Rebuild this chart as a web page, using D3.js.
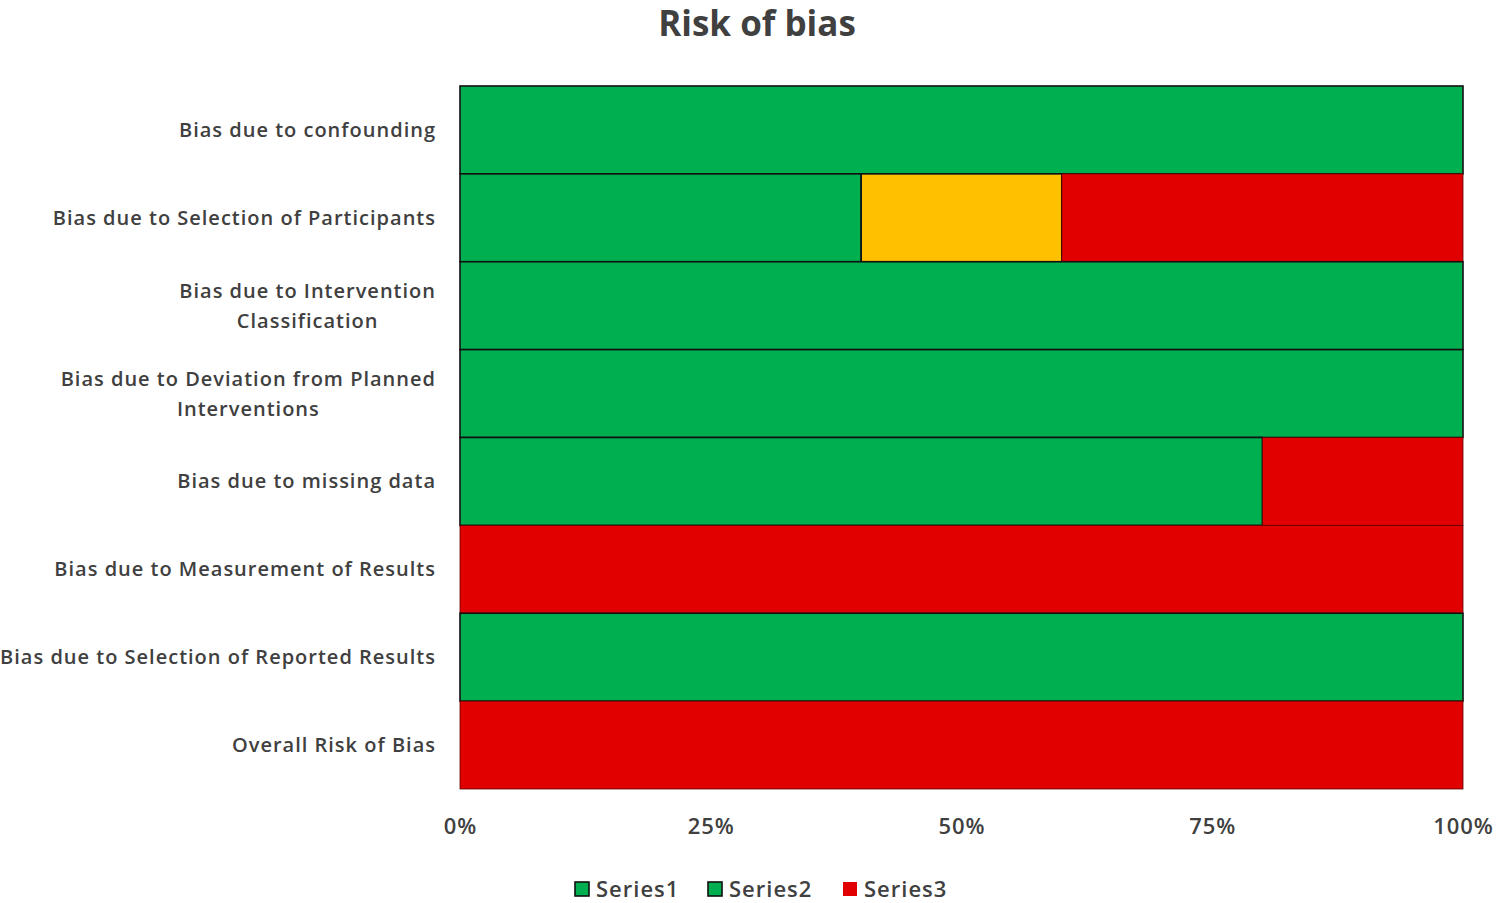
<!DOCTYPE html>
<html><head><meta charset="utf-8">
<script src="https://cdn.jsdelivr.net/npm/d3@7/dist/d3.min.js"></script>
<style>
body{margin:0;background:#fff;}
text{font-family:"Open Sans",sans-serif;}
</style></head>
<body><svg id="c" width="1500" height="903"></svg>
<script>
const categories = [
  ["Bias due to confounding"],
  ["Bias due to Selection of Participants"],
  ["Bias due to Intervention", "Classification"],
  ["Bias due to Deviation from Planned", "Interventions"],
  ["Bias due to missing data"],
  ["Bias due to Measurement of Results"],
  ["Bias due to Selection of Reported Results"],
  ["Overall Risk of Bias"]
];
const series1 = [100, 40, 100, 100, 80, 0, 100, 0];
const series2 = [0, 20, 0, 0, 0, 0, 0, 0];
const series3 = [0, 40, 0, 0, 20, 100, 0, 100];
const seriesNames = ["Series1", "Series2", "Series3"];
const tickValues = [0, 0.25, 0.5, 0.75, 1];
const tickLabels = ["0%", "25%", "50%", "75%", "100%"];
// point colour override (Series2 in row 2 shown yellow)
const pointColors = {"1-1": "#FFC000"};

const green = "#00B050", red = "#E00000";
const seriesColors = [green, green, red];
const seriesStroke = ["#111", "#111", "#5a0000"];

const svg = d3.select("#c");
const x = d3.scaleLinear().domain([0, 1]).range([460, 1463]);
const y = d3.scaleBand().domain(d3.range(categories.length)).range([86, 789]).padding(0);

svg.append("text").attr("x", 757).attr("y", 36).attr("text-anchor", "middle")
  .attr("font-size", 35).attr("font-weight", 700).attr("fill", "#404040").text("Risk of bias");

const all = [series1, series2, series3];
const rows = categories.map((c, i) => {
  const tot = all.reduce((s, a) => s + a[i], 0);
  let acc = 0;
  return all.map((a, k) => { const v0 = acc / tot; acc += a[i]; return {i, k, v0, v1: acc / tot}; });
});

const g = svg.append("g");
rows.forEach(r => r.forEach(d => {
  if (d.v1 - d.v0 <= 0) return;
  g.append("rect")
    .attr("x", x(d.v0)).attr("y", y(d.i))
    .attr("width", x(d.v1) - x(d.v0)).attr("height", y.bandwidth())
    .attr("fill", pointColors[d.i + "-" + d.k] || seriesColors[d.k])
    .attr("stroke", seriesStroke[d.k]).attr("stroke-width", d.k === 2 ? 0.8 : 1.6);
}));

// category labels
categories.forEach((lines, i) => {
  const cy = y(i) + y.bandwidth() / 2;
  const t = svg.append("text").attr("text-anchor", "middle").attr("font-size", 20)
    .attr("font-weight", 600).attr("fill", "#404040").attr("letter-spacing", 1);
  const lh = 30;
  lines.forEach((ln, j) => {
    t.append("tspan").attr("x", 0).attr("y", cy + 7 + (j - (lines.length - 1) / 2) * lh).text(ln);
  });
  const bb = t.node().getBBox();
  const right = 436;
  t.selectAll("tspan").attr("x", right - bb.width / 2);
});

// x axis labels
const axis = d3.axisBottom(x).tickValues(tickValues).tickFormat((d, i) => tickLabels[i]).tickSize(0).tickPadding(0);
const ag = svg.append("g").attr("transform", "translate(0,818)").call(axis);
ag.select(".domain").remove();
ag.selectAll("text").attr("font-size", 22).attr("font-weight", 600).attr("fill", "#404040")
  .attr("letter-spacing", 1).attr("dy", "0.71em").style("font-family", "'Open Sans',sans-serif");

// legend
const leg = svg.append("g");
const lx = [575, 708, 843];
seriesNames.forEach((n, k) => {
  leg.append("rect").attr("x", lx[k]).attr("y", 882).attr("width", 14).attr("height", 14)
    .attr("fill", seriesColors[k]).attr("stroke", k < 2 ? "#111" : "none").attr("stroke-width", 1.6);
  leg.append("text").attr("x", lx[k] + 21).attr("y", 897).attr("font-size", 22).attr("font-weight", 600)
    .attr("letter-spacing", 1).attr("fill", "#404040").text(n);
});
</script></body></html>
